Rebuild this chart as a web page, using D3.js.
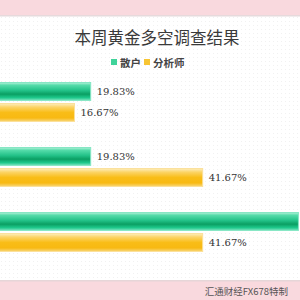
<!DOCTYPE html>
<html>
<head>
<meta charset="utf-8">
<script src="https://d3js.org/d3.v7.min.js"></script>
<style>
  body { margin: 0; background: #fff; }
  svg { display: block; }
</style>
</head>
<body>
<svg width="300" height="300"></svg>
<script>
// chart data
var categories = ['看涨', '看跌', '震荡'];
var seriesNames = ['散户', '分析师'];
var retail = [19.83, 19.83, 60.34];
var analyst = [16.67, 41.67, 41.67];
var title = '本周黄金多空调查结果';
var credit = '汇通财经FX678特制';

var svg = d3.select('svg');
var defs = svg.append('defs');

// faint dotted background
var pat = defs.append('pattern')
    .attr('id', 'dots')
    .attr('width', 4).attr('height', 4)
    .attr('patternUnits', 'userSpaceOnUse');
pat.append('rect').attr('width', 4).attr('height', 4).attr('fill', '#fff');
pat.append('rect').attr('x', 1).attr('y', 1).attr('width', 1).attr('height', 1).attr('fill', '#f1f1f1');

svg.append('rect').attr('width', 300).attr('height', 300).attr('fill', 'url(#dots)');

// bar gradients
var g1 = defs.append('linearGradient').attr('id', 'gGreen').attr('x1', 0).attr('y1', 0).attr('x2', 0).attr('y2', 1);
[[0, '#b4f2da'], [0.15, '#55dcaa'], [0.45, '#22c187'], [0.65, '#0b9f63'], [0.85, '#1ec98c'], [1, '#7fe3bf']]
  .forEach(function(s) { g1.append('stop').attr('offset', s[0]).attr('stop-color', s[1]); });

var g2 = defs.append('linearGradient').attr('id', 'gYellow').attr('x1', 0).attr('y1', 0).attr('x2', 0).attr('y2', 1);
[[0, '#fdeebf'], [0.2, '#fcd466'], [0.5, '#f9bd17'], [0.8, '#f8b912'], [1, '#f8d77a']]
  .forEach(function(s) { g2.append('stop').attr('offset', s[0]).attr('stop-color', s[1]); });

var fills = ['url(#gGreen)', 'url(#gYellow)'];
var strokes = ['#86e6c4', '#fbe09a'];
var legendCol = ['#3fd39a', '#f7c534'];

// header and footer bands
svg.append('rect').attr('x', 0).attr('y', 0).attr('width', 300).attr('height', 15).attr('fill', '#f9d9de');
svg.append('rect').attr('x', 0).attr('y', 15).attr('width', 300).attr('height', 1.5).attr('fill', '#e6dadc');
svg.append('rect').attr('x', 0).attr('y', 281).attr('width', 300).attr('height', 19).attr('fill', '#f9d9de');
svg.append('rect').attr('x', 0).attr('y', 280).attr('width', 300).attr('height', 1.5).attr('fill', '#e6d6d8');

// scales
var xs = d3.scaleLinear().domain([0, 100]).range([-11, 501.8]);
var y0 = d3.scaleBand().domain(categories).range([82, 252]).paddingInner(0.385).paddingOuter(0);
var y1 = d3.scaleBand().domain(seriesNames).range([0, y0.bandwidth()]).paddingInner(0.1);

var rows = [];
categories.forEach(function(c, i) {
  rows.push({cat: c, s: 0, v: retail[i]});
  rows.push({cat: c, s: 1, v: analyst[i]});
});

var bars = svg.append('g').attr('id', 'bars');
bars.selectAll('rect')
  .data(rows)
  .enter()
  .append('rect')
    .attr('x', xs(0))
    .attr('y', function(d) { return y0(d.cat) + y1(seriesNames[d.s]) + 0.5; })
    .attr('width', function(d) { return xs(d.v) - xs(0); })
    .attr('height', y1.bandwidth() - 1)
    .attr('fill', function(d) { return fills[d.s]; })
    .attr('stroke', function(d) { return strokes[d.s]; })
    .attr('stroke-width', 1);

// value labels (the one past the right edge is cut off in the original, so skip it)
bars.selectAll('text')
  .data(rows.filter(function(d) { return xs(d.v) + 6 < 290; }))
  .enter()
  .append('text')
    .attr('x', function(d) { return xs(d.v) + 6; })
    .attr('y', function(d) { return y0(d.cat) + y1(seriesNames[d.s]) + y1.bandwidth() / 2 + 3.5; })
    .style('font-family', '"DejaVu Serif", "Liberation Serif", serif')
    .style('font-size', '10px')
    .style('fill', '#333')
    .text(function(d) { return d.v.toFixed(2) + '%'; });

// title
svg.append('text')
  .attr('x', 157)
  .attr('y', 44)
  .style('text-anchor', 'middle')
  .style('font-family', '"Noto Sans CJK SC", sans-serif')
  .style('font-size', '16.5px')
  .style('fill', '#3a3a3a')
  .text(title);

// legend
var lx = [111, 144];
var leg = svg.append('g').attr('id', 'legend');
seriesNames.forEach(function(n, i) {
  leg.append('rect')
    .attr('x', lx[i]).attr('y', 59)
    .attr('width', 6).attr('height', 6)
    .attr('fill', legendCol[i]);
  leg.append('text')
    .attr('x', lx[i] + 9)
    .attr('y', 66.5)
    .style('font-family', '"Noto Sans CJK SC", sans-serif')
    .style('font-size', '10.5px')
    .style('font-weight', 'bold')
    .style('fill', '#444')
    .text(n);
});

// credit
svg.append('text')
  .attr('x', 288)
  .attr('y', 295)
  .style('text-anchor', 'end')
  .style('font-family', '"Noto Sans CJK SC", sans-serif')
  .style('font-size', '9.5px')
  .style('fill', '#555')
  .text(credit);
</script>
</body>
</html>
